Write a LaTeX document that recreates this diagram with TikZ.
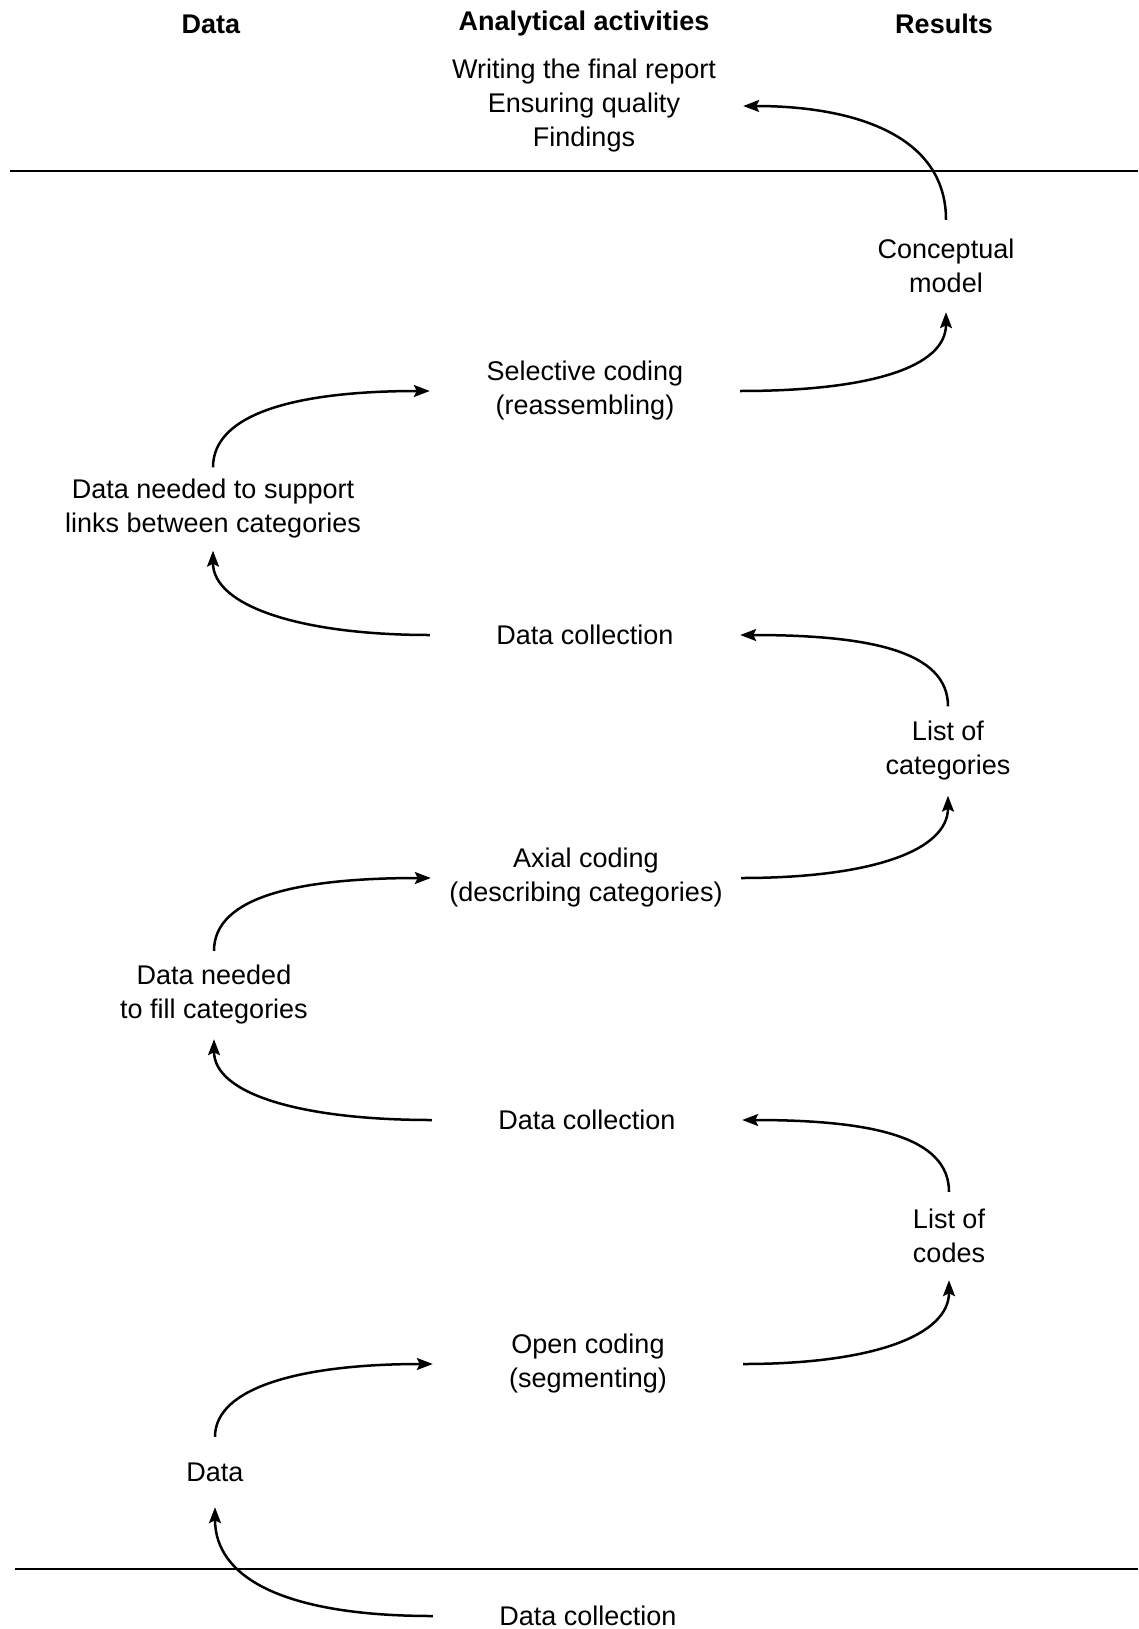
\documentclass[tikz,border=0pt]{standalone}
\usepackage{fontspec}
\setmainfont{Liberation Sans}
\usetikzlibrary{arrows.meta}
\begin{document}
\begin{tikzpicture}[x=1pt,y=1pt,
 lbl/.style={align=center,font=\fontsize{27}{34}\selectfont,inner sep=0pt},
 hdr/.style={font=\fontsize{27}{34}\selectfont\bfseries,inner sep=0pt},
 mid/.style={lbl,minimum width=310pt},
 side/.style={lbl},
 arr/.style={line width=2.5pt,-{Stealth[length=16pt,width=12pt,inset=3pt]}},
 rulel/.style={line width=2.4pt}]
\useasboundingbox (0,0) rectangle (1138,-1629);
% headers
\node[hdr] (h1) at (211,-24) {Data};
\node[hdr] (h2) at (584,-24) {Analytical activities};
\node[hdr] (h3) at (944,-24) {Results};
% rules
\draw[rulel] (10,-171) -- (1138,-171);
\draw[rulel] (15,-1569) -- (1138,-1569);
% middle column
\node[mid,minimum width=318pt] (top) at (584,-106) {Writing the final report\\Ensuring quality\\Findings};
\node[mid] (sc) at (585,-391) {Selective coding\\(reassembling)};
\node[mid] (dc1) at (585,-635) {Data collection};
\node[mid] (ax) at (586,-878) {Axial coding\\(describing categories)};
\node[mid] (dc2) at (587,-1120) {Data collection};
\node[mid] (oc) at (588,-1364) {Open coding\\(segmenting)};
\node[mid] (dc3) at (588,-1616) {Data collection};
% right column
\node[side,minimum height=92pt] (cm) at (946,-266) {Conceptual\\model};
\node[side,minimum height=89pt] (lcat) at (948,-751) {List of\\categories};
\node[side,minimum height=88pt] (lcod) at (949,-1236) {List of\\codes};
% left column
\node[side,minimum height=83pt] (dsup) at (213,-509) {Data needed to support\\links between categories};
\node[side,minimum height=88pt] (dfill) at (214,-995) {Data needed\\to fill categories};
\node[side,minimum height=70pt] (data) at (215,-1472) {Data};
% connectors
\draw[arr] (cm.north) .. controls +(0,85) and +(110,0) .. (top.east);
\draw[arr] (sc.east) .. controls +(130,0) and +(0,-55) .. (cm.south);
\draw[arr] (dsup.north) .. controls +(0,55) and +(-130,0) .. (sc.west);
\draw[arr] (dc1.west) .. controls +(-130,0) and +(0,-55) .. (dsup.south);
\draw[arr] (lcat.north) .. controls +(0,55) and +(130,0) .. (dc1.east);
\draw[arr] (ax.east) .. controls +(130,0) and +(0,-55) .. (lcat.south);
\draw[arr] (dfill.north) .. controls +(0,55) and +(-130,0) .. (ax.west);
\draw[arr] (dc2.west) .. controls +(-130,0) and +(0,-55) .. (dfill.south);
\draw[arr] (lcod.north) .. controls +(0,55) and +(130,0) .. (dc2.east);
\draw[arr] (oc.east) .. controls +(130,0) and +(0,-55) .. (lcod.south);
\draw[arr] (data.north) .. controls +(0,50) and +(-130,0) .. (oc.west);
\draw[arr] (dc3.west) .. controls +(-150,0) and +(0,-70) .. (data.south);
\end{tikzpicture}
\end{document}
